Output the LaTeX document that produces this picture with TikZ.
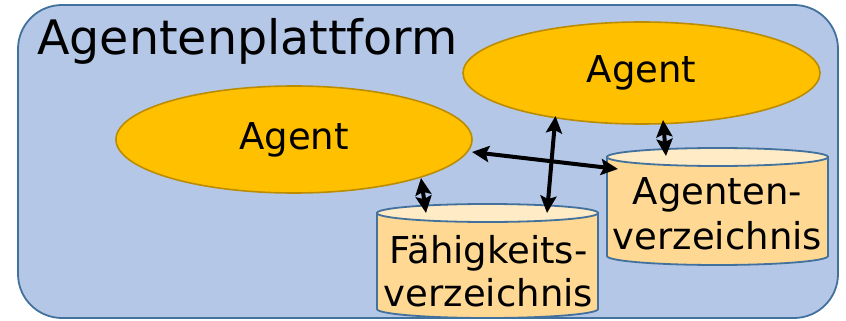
\documentclass[tikz,border=0pt]{standalone}
\usepackage{fontspec}
\setmainfont{DejaVu Sans}
\usetikzlibrary{shapes.geometric,arrows.meta}
\definecolor{platfill}{HTML}{B4C7E7}
\definecolor{platline}{HTML}{41719C}
\definecolor{agentfill}{HTML}{FFC000}
\definecolor{agentline}{HTML}{BC8C00}
\definecolor{cylfill}{HTML}{FFD994}
\definecolor{cyltop}{HTML}{FFEBC6}
\tikzset{
  agent/.style={ellipse, draw=agentline, fill=agentfill, line width=1.6pt, inner sep=0pt, font=\fontsize{37}{44}\selectfont},
  cyltext/.style={align=center, font=\fontsize{37}{44}\selectfont, inner sep=0pt},
  headtip/.tip={Stealth[length=17pt,width=16pt,inset=3pt]},
  link/.style={line width=4pt, headtip-headtip},
  cylline/.style={draw=platline, line width=1.8pt}
}
\begin{document}
\begin{tikzpicture}[x=1pt,y=-1pt]
\useasboundingbox (0,0) rectangle (846,321);
% platform
\draw[fill=platfill, draw=platline, line width=1.8pt, rounded corners=44pt] (18,5) rectangle (838,318);
\node[anchor=base west, inner sep=0pt, font=\fontsize{47.5}{52}\selectfont] (title) at (37,55) {Agentenplattform};
% agents
\node[agent, minimum width=356pt, minimum height=107pt] (a1) at (294,139.5) {Agent};
\node[agent, minimum width=357pt, minimum height=102pt] (a2) at (641.5,73) {Agent};
% cylinder 1
\path[cylline, fill=cylfill] (377,213) -- (377,309) arc[start angle=180, end angle=360, x radius=110.5pt, y radius=9pt] -- (598,213) -- cycle;
\path[cylline, fill=cyltop] (487.5,213) ellipse[x radius=110.5pt, y radius=9pt];
\node[cyltext, anchor=base] (c1a) at (488.5,263) {Fähigkeits-};
\node[cyltext, anchor=base] (c1b) at (488.5,306) {verzeichnis};
% cylinder 2
\path[cylline, fill=cylfill] (607,157) -- (607,256) arc[start angle=180, end angle=360, x radius=110.5pt, y radius=9pt] -- (828,157) -- cycle;
\path[cylline, fill=cyltop] (717.5,157) ellipse[x radius=110.5pt, y radius=9pt];
\node[cyltext, anchor=base] (c2a) at (717.5,204) {Agenten-};
\node[cyltext, anchor=base] (c2b) at (717.5,249) {verzeichnis};
% connector ends
\coordinate (p1a) at (421,178);
\coordinate (p1b) at (426,213);
\coordinate (p2a) at (555.5,116);
\coordinate (p2b) at (547,213);
\coordinate (p3a) at (472,152);
\coordinate (p3b) at (618,169);
\coordinate (p4a) at (663,120);
\coordinate (p4b) at (666,156);
\draw[link] (p1a) -- (p1b);
\draw[link] (p2a) -- (p2b);
\draw[link] (p3a) -- (p3b);
\draw[link] (p4a) -- (p4b);
\end{tikzpicture}
\end{document}
